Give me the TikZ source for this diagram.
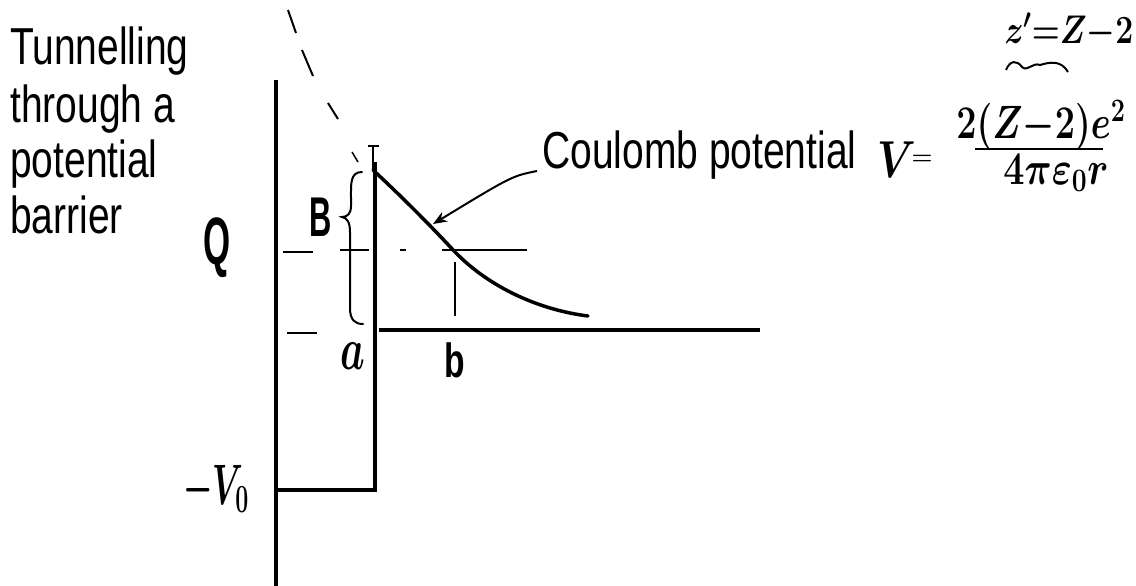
\RequirePackage{fix-cm}
\documentclass[tikz,border=0pt]{standalone}
\usepackage{graphicx}
\usepackage{fontspec}
\setmainfont{Liberation Sans}
\usetikzlibrary{arrows.meta}
\newcommand{\narrow}[1]{\scalebox{0.75}[1]{#1}}
\begin{document}
\begin{tikzpicture}[x=1pt,y=-1pt,
  thickline/.style={line width=3.5pt},
  thinline/.style={line width=2pt},
  lbl/.style={font=\fontsize{52}{52}\selectfont, anchor=base west, inner sep=0pt},
  hand/.style={inner sep=0pt, anchor=center, font=\boldmath\bfseries}]
\useasboundingbox (0,0) rectangle (1136,586);

% title text
\node[lbl] (t1) at (10,65) {\narrow{Tunnelling}};
\node[lbl] (t2) at (10,122) {\narrow{through a}};
\node[lbl] (t3) at (10,177) {\narrow{potential}};
\node[lbl] (t4) at (10,233) {\narrow{barrier}};

% axes and well
\coordinate (axTop) at (276,80);
\coordinate (axBot) at (276,586);
\draw[thickline] (axTop) -- (axBot);
\coordinate (wallTop) at (375,162);
\coordinate (wallBot) at (375,490);
\coordinate (wellL) at (278,490);
\draw[thickline] (wellL) -- (wallBot) -- (wallTop);
\coordinate (zeroL) at (379,330);
\coordinate (zeroR) at (760,330);
\draw[thickline] (zeroL) -- (zeroR);

% ticks on the left
\coordinate (tq1) at (283,252); \coordinate (tq2) at (313,252);
\coordinate (tz1) at (287,333); \coordinate (tz2) at (317,333);
\draw[thinline] (tq1) -- (tq2);
\draw[thinline] (tz1) -- (tz2);

% Q level
\coordinate (q1) at (340,250); \coordinate (q2) at (369,250);
\coordinate (q3) at (400,250); \coordinate (q4) at (406,250);
\coordinate (q5) at (442,250); \coordinate (q6) at (527,250);
\draw[thinline] (q1) -- (q2);
\draw[thinline] (q3) -- (q4);
\draw[thinline] (q5) -- (q6);

% b tick
\coordinate (bt1) at (455,262); \coordinate (bt2) at (455,316);
\draw[line width=1.5pt] (bt1) -- (bt2);

% Coulomb curve
\draw[thickline, line cap=round] (373,170) .. controls (400,195) and (430,225) .. (455,252)
  .. controls (490,288) and (540,310) .. (588,316);

% dashed extension (hand drawn dashes)
\draw[thinline] (288,10) -- (296,33);
\draw[thinline] (302,50) -- (313,76);
\draw[thinline] (328,103) -- (338,119);
\draw[line width=1.5pt] (352,152) -- (358,162);

% small mark at top of wall
\draw[thinline] (373,145) -- (373,170);
\draw[line width=1.5pt] (368,146) -- (379,146);

% brace B
\draw[thinline, line cap=round] (362,172) .. controls (350,172) and (351,184) .. (351,198)
  -- (351,206) .. controls (351,214) and (347,217) .. (342,217)
  .. controls (347,218) and (350,222) .. (350,232) -- (350,308)
  .. controls (350,320) and (355,324) .. (363,324);

% handwritten labels
\node[hand] (B) at (321,217) {\fontsize{56}{56}\selectfont\scalebox{0.55}[1]{B}};
\node[hand] (Q) at (217,248) {\fontsize{67}{67}\selectfont\scalebox{0.52}[1]{Q}};
\node[hand] (a) at (353,356) {\fontsize{60}{60}\selectfont\scalebox{0.65}[1]{$a$}};
\node[hand] (b) at (455,360) {\fontsize{48}{48}\selectfont\scalebox{0.7}[1]{b}};
\node[hand] (V0) at (216,489) {\fontsize{57}{57}\selectfont\scalebox{0.58}[1]{${-}V_0$}};

% Coulomb label and arrow
\node[lbl] (clab) at (542,168) {\narrow{Coulomb potential}};
\coordinate (arrS) at (537,171);
\coordinate (arrE) at (433,224);
\draw[thinline, -{Stealth[length=14pt,width=11pt]}] (arrS) .. controls (512,176) .. (arrE);

% formula
\node[hand] (Veq) at (897,160) {\fontsize{52}{52}\selectfont\scalebox{0.8}[1]{$V$}};
\node[hand] (eq) at (922,160) {\fontsize{24}{24}\selectfont$=$};
\node[hand] (num) at (1041,125) {\fontsize{36}{36}\selectfont\scalebox{1}[1.3]{$2(Z{-}2)e^2$}};
\coordinate (bar1) at (975,149);
\coordinate (bar2) at (1103,149);
\draw[thinline] (bar1) -- (bar2);
\node[hand] (den) at (1056,173) {\fontsize{36}{36}\selectfont\scalebox{1.05}[1.3]{$4\pi\varepsilon_0 r$}};
\node[hand] (zp) at (1069,31) {\fontsize{32}{32}\selectfont\scalebox{1}[1.25]{$z'{=}Z{-}2$}};
\draw[thinline] (1006,70) .. controls (1010,60) and (1017,60) .. (1022,67)
  .. controls (1027,72) and (1033,62) .. (1040,65)
  .. controls (1050,62) and (1061,60) .. (1068,72);
\end{tikzpicture}
\end{document}
